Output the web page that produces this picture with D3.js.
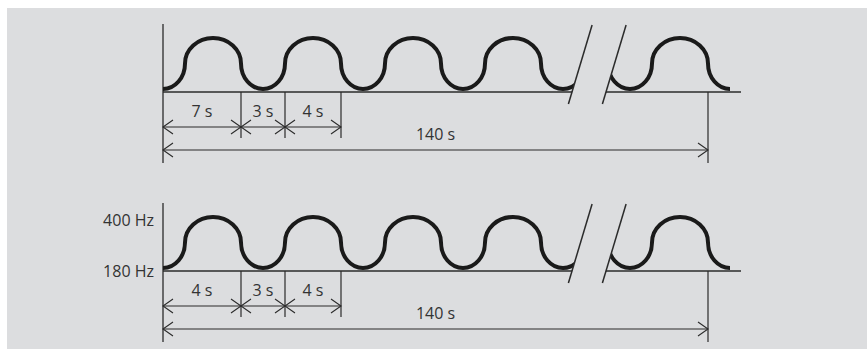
<!DOCTYPE html>
<html>
<head>
<meta charset="utf-8">
<script src="https://cdn.jsdelivr.net/npm/d3@7"></script>
<style>
  html, body { margin: 0; padding: 0; background: #fff; }
  svg { display: block; }
  text { font-family: "Open Sans", "Noto Sans", sans-serif; font-size: 16px; fill: #333; }
</style>
</head>
<body>
<div id="chart"></div>
<script>
// frequency levels (Hz) and their labels
var freqLevels = [180, 400];
var freqLabels = ["180 Hz", "400 Hz"];

// schematic time axis (drawing units, one cycle = 10 units, not to scale)
// wave edges = points where the tone switches level, first arc is the low one
var waveEdgesBefore = [-2.2, 2.2, 7.8, 12.2, 17.8, 22.2, 27.8, 32.2, 37.8, 42.2];
var waveEdgesAfter = [44.5, 48.9, 54.5, 58.9];
var waveEnd = 56.7;
var breakAt = [40.9, 44.3];
var axisEnd = 57.8;

// dimension lines
var dimBounds = [0, 7.8, 12.2, 17.8];
var dimLabelsTop = ["7 s", "3 s", "4 s"];
var dimLabelsBottom = ["4 s", "3 s", "4 s"];
var totalSpan = [0, 54.5];
var totalLabel = "140 s";

var width = 867, height = 350;

var svg = d3.select("#chart").append("svg")
    .attr("width", width)
    .attr("height", height);

svg.append("rect")
    .attr("x", 7).attr("y", 8)
    .attr("width", width - 7).attr("height", 341)
    .attr("fill", "#dcdddf");

var x = d3.scaleLinear().domain([0, axisEnd]).range([163, 741]);
var y = d3.scaleLinear().domain(freqLevels).range([-3, -54]); // relative to panel baseline
var midHz = d3.mean(freqLevels);

var lineColor = "#2b2b2b";

// slant of the break marks (px in x per px in y)
var slant = 0.3, breakTop = -67, breakBottom = 12;

function wavePath(edges) {
    var p = "";
    var ym = y(midHz);
    for (var i = 0; i < edges.length - 1; i++) {
        var level = freqLevels[i % 2];
        var xa = x(edges[i]), xb = x(edges[i + 1]);
        var rx = (xb - xa) / 2, ry = Math.abs(y(level) - ym);
        if (i == 0) p += "M" + xa + "," + ym;
        p += "A" + rx + "," + ry + " 0 0 " + (level == freqLevels[1] ? 1 : 0) + " " + xb + "," + ym;
    }
    return p;
}

function drawArrow(g, x0, x1, yy) {
    var a = 10, h = 7;
    g.append("line")
        .attr("x1", x0).attr("x2", x1).attr("y1", yy).attr("y2", yy)
        .attr("stroke", lineColor).attr("stroke-width", 1.2);
    g.append("path")
        .attr("d", "M" + (x0 + a) + "," + (yy - h) + "L" + x0 + "," + yy + "L" + (x0 + a) + "," + (yy + h))
        .attr("fill", "none").attr("stroke", lineColor).attr("stroke-width", 1.1);
    g.append("path")
        .attr("d", "M" + (x1 - a) + "," + (yy - h) + "L" + x1 + "," + yy + "L" + (x1 - a) + "," + (yy + h))
        .attr("fill", "none").attr("stroke", lineColor).attr("stroke-width", 1.1);
}

function drawPanel(id, baseY, dimLabels, showFreq) {
    var g = svg.append("g").attr("transform", "translate(0," + baseY + ")");

    // clip regions cut along the break marks
    var bx0 = x(breakAt[0]), bx1 = x(breakAt[1]);
    var top = -80, bot = 30;
    g.append("clipPath").attr("id", "clipA" + id)
      .append("polygon")
        .attr("points", [[x(0), top], [bx0 - slant * (top), top], [bx0 - slant * bot, bot], [x(0), bot]].join(" "));
    g.append("clipPath").attr("id", "clipB" + id)
      .append("polygon")
        .attr("points", [[bx1 - slant * top, top], [x(waveEnd), top], [x(waveEnd), bot], [bx1 - slant * bot, bot]].join(" "));

    // baseline, broken at the break marks
    g.append("line")
        .attr("x1", x(0)).attr("x2", bx0).attr("y1", 0).attr("y2", 0)
        .attr("stroke", lineColor).attr("stroke-width", 1.3);
    g.append("line")
        .attr("x1", bx1).attr("x2", x(axisEnd)).attr("y1", 0).attr("y2", 0)
        .attr("stroke", lineColor).attr("stroke-width", 1.3);

    // vertical axis
    g.append("line")
        .attr("x1", x(0)).attr("x2", x(0)).attr("y1", -68).attr("y2", 71)
        .attr("stroke", lineColor).attr("stroke-width", 1.3);

    // tone wave
    g.append("path")
        .attr("d", wavePath(waveEdgesBefore))
        .attr("clip-path", "url(#clipA" + id + ")")
        .attr("fill", "none").attr("stroke", "#1a1a1a").attr("stroke-width", 4);
    g.append("path")
        .attr("d", wavePath(waveEdgesAfter))
        .attr("clip-path", "url(#clipB" + id + ")")
        .attr("fill", "none").attr("stroke", "#1a1a1a").attr("stroke-width", 4);

    // break marks
    breakAt.forEach(function (b) {
        g.append("line")
            .attr("x1", x(b) - slant * breakTop).attr("y1", breakTop)
            .attr("x2", x(b) - slant * breakBottom).attr("y2", breakBottom)
            .attr("stroke", lineColor).attr("stroke-width", 1.5);
    });

    // frequency labels
    if (showFreq) {
        g.selectAll(".freq")
            .data(freqLevels)
            .enter().append("text")
            .attr("x", x(0) - 9)
            .attr("y", function (d) { return y(d) + 9; })
            .attr("text-anchor", "end")
            .text(function (d, i) { return freqLabels[i]; });
    }

    // segment dimension lines
    dimBounds.slice(1).forEach(function (b) {
        g.append("line")
            .attr("x1", x(b)).attr("x2", x(b)).attr("y1", 0).attr("y2", 46)
            .attr("stroke", lineColor).attr("stroke-width", 1.2);
    });
    dimLabels.forEach(function (lab, i) {
        var x0 = x(dimBounds[i]), x1 = x(dimBounds[i + 1]);
        drawArrow(g, x0, x1, 35);
        g.append("text")
            .attr("x", (x0 + x1) / 2)
            .attr("y", 25)
            .attr("text-anchor", "middle")
            .text(lab);
    });

    // total duration
    g.append("line")
        .attr("x1", x(totalSpan[1])).attr("x2", x(totalSpan[1])).attr("y1", 0).attr("y2", 71)
        .attr("stroke", lineColor).attr("stroke-width", 1.2);
    drawArrow(g, x(totalSpan[0]), x(totalSpan[1]), 58);
    g.append("text")
        .attr("x", (x(totalSpan[0]) + x(totalSpan[1])) / 2)
        .attr("y", 48)
        .attr("text-anchor", "middle")
        .text(totalLabel);
}

drawPanel("top", 92, dimLabelsTop, false);
drawPanel("bottom", 271, dimLabelsBottom, true);
</script>
</body>
</html>
